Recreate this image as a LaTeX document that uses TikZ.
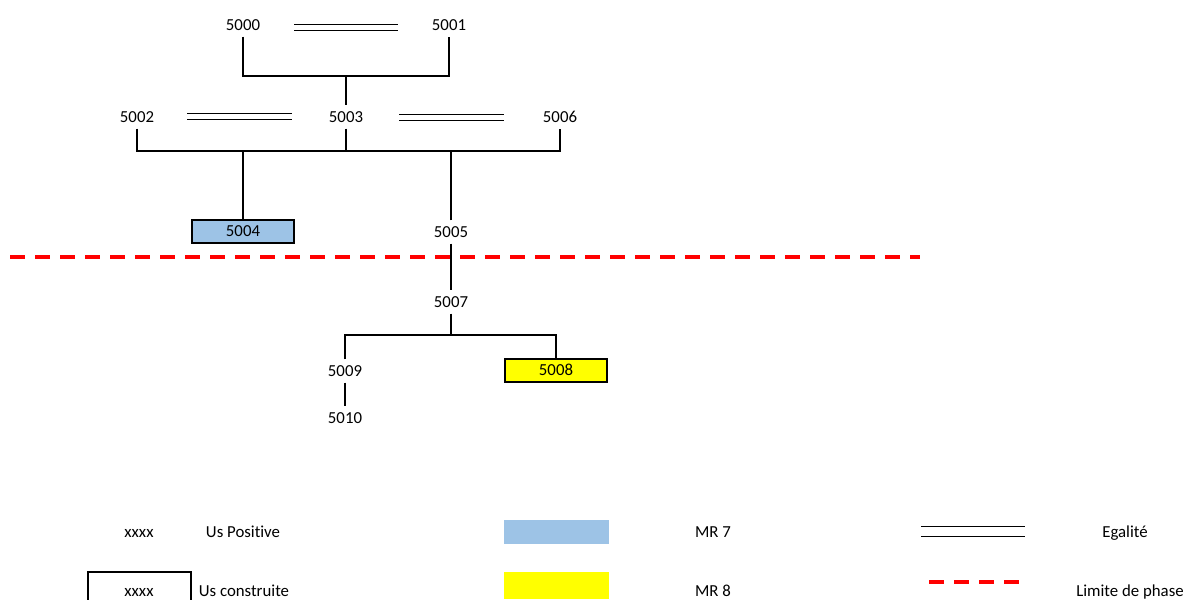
\documentclass[tikz,border=0pt]{standalone}
\usepackage{fontspec}
\setmainfont{Carlito}[Ligatures=NoCommon]
\usetikzlibrary{calc}
\definecolor{mrbleu}{HTML}{9DC3E6}
\definecolor{mrjaune}{HTML}{FFFF00}

\begin{document}
\begin{tikzpicture}[x=0.75pt,y=-0.75pt,line width=1.1pt,
    us/.style={font=\fontsize{12.6}{15}\selectfont,text height=8pt,text depth=0pt,
        minimum height=16.5pt,inner sep=0pt},
    usbox/.style={us,draw,line width=1.7pt,minimum width=77pt,minimum height=17pt},
    egal/.style={double,double distance=3.6pt,line width=1.1pt},
    phase/.style={red,line width=2.7pt,dash pattern=on 11.25pt off 7.5pt}]
            \useasboundingbox (0,0) rectangle (1194,599);
            % us
            \node[us] (n5000) at (243,25) {5000};
            \node[us] (n5001) at (449,25) {5001};
            \node[us] (n5002) at (137,117) {5002};
            \node[us] (n5003) at (346,117) {5003};
            \node[us] (n5006) at (560,117) {5006};
            \node[usbox,fill=mrbleu] (n5004) at (243,231.5) {5004};
            \node[us] (n5005) at (451,232) {5005};
            \node[us] (n5007) at (451,302) {5007};
            \node[usbox,fill=mrjaune] (n5008) at (556,370.5) {5008};
            \node[us] (n5009) at (345,371) {5009};
            \node[us] (n5010) at (345,418) {5010};
            % liens
            \coordinate (b1) at (346,76);
            \coordinate (b2) at (346,151);
            \coordinate (b3) at (451,335);
            \draw (n5000.south) |- (b1) -| (n5001.south);
            \draw (b1)--(n5003.north);
            \draw (n5002.south) |- (b2) -| (n5006.south);
            \draw (n5003.south)--(b2);
            \draw (n5004.north) |- (b2);
            \draw (n5005.north) |- (b2);
            \draw (n5005.south)--(n5007.north);
            \draw (n5007.south)--(b3);
            \draw (n5009.north) |- (b3) -| (n5008.north);
            \draw (n5009.south)--(n5010.north);
            % egalites
            \draw[egal] (294,27.5)--(398,27.5);
            \draw[egal] (187,116.5)--(292,116.5);
            \draw[egal] (399,117.5)--(504,117.5);
            % limite de phase
            \draw[phase] (10,257)--(920,257);
            % legende
            \node[us] (lx1) at (139,532) {xxxx};
            \node[us] (lt1) at (243,532) {Us Positive};
            \node[us] (lx2) at (139,591) {xxxx};
            \node[us] (lt2) at (244,591) {Us construite};
            \draw[line width=1.6pt] (88,600) |- (191,572)--(191,600);
            \fill[mrbleu] (504,520) rectangle (609,544);
            \fill[mrjaune] (504,572) rectangle (609,599);
            \node[us] (lmr7) at (713,532) {MR 7};
            \node[us] (lmr8) at (713,591) {MR 8};
            \draw[egal,double distance=6.4pt] (921,531.5)--(1025,531.5);
            \node[us] (legal) at (1125,532) {Egalité};
            \draw[phase] (929,582)--(1019,582);
            \node[us] (lphase) at (1130,591) {Limite de phase};
        \end{tikzpicture}
\end{document}
